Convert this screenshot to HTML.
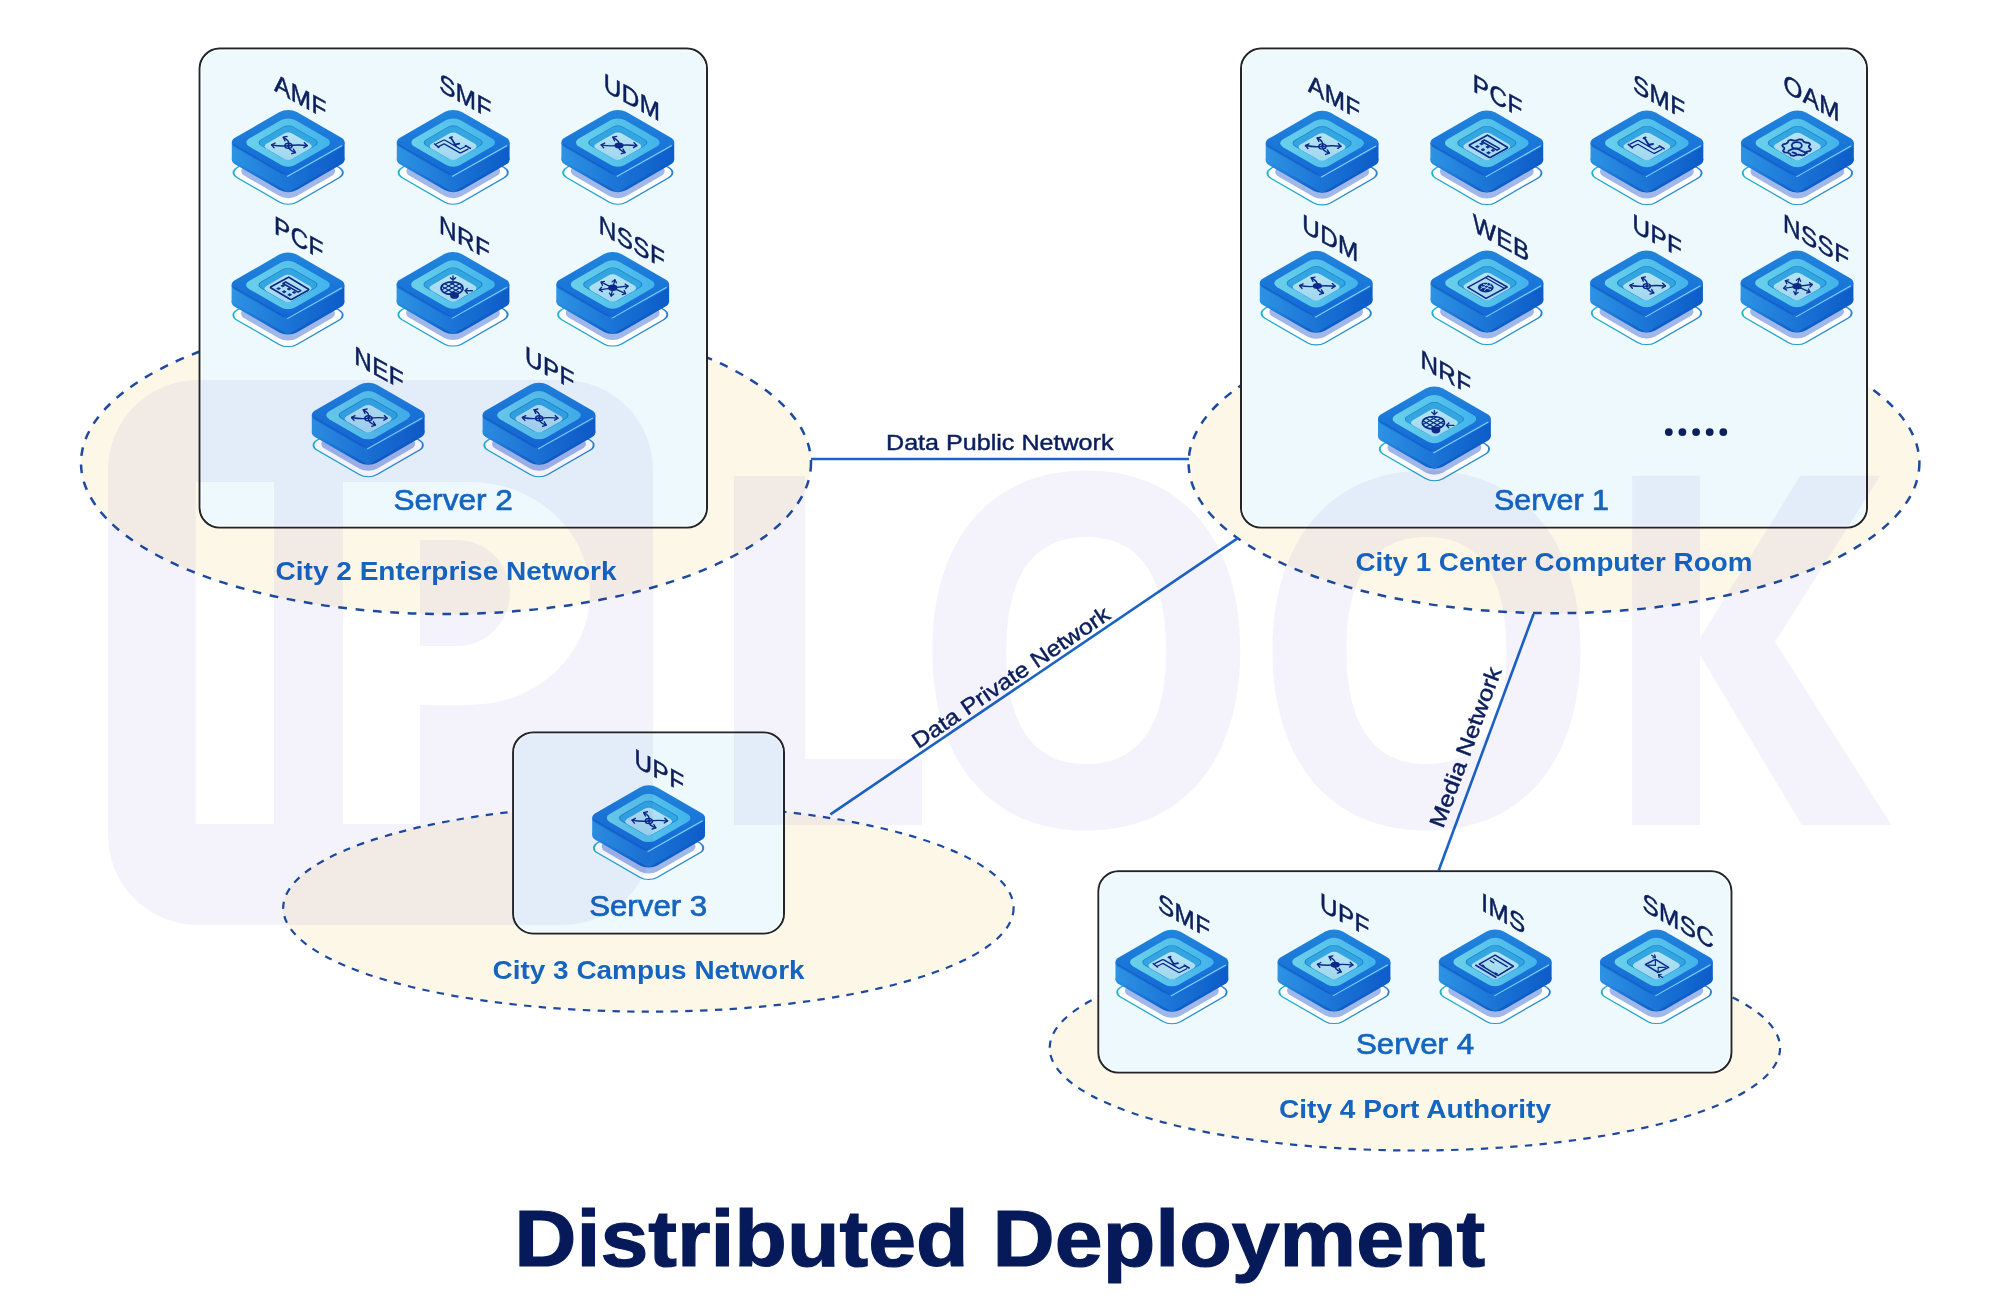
<!DOCTYPE html><html><head><meta charset="utf-8"><title>Distributed Deployment</title>
<style>html,body{margin:0;padding:0;background:#fff;width:2000px;height:1303px;overflow:hidden}svg{display:block;font-family:"Liberation Sans",sans-serif}</style></head><body>
<svg width="2000" height="1303" viewBox="0 0 2000 1303">
<defs>
<filter id="blur" x="-30%" y="-30%" width="160%" height="160%"><feGaussianBlur stdDeviation="0.7"/></filter>
<linearGradient id="sideg" x1="0" y1="0" x2="1" y2="0" gradientUnits="objectBoundingBox"><stop offset="0" stop-color="#2d93e3"/><stop offset="0.5" stop-color="#1b74d6"/><stop offset="1" stop-color="#0d5cc8"/></linearGradient>
<linearGradient id="rimg" x1="0" y1="0" x2="1" y2="1"><stop offset="0" stop-color="#2286dc"/><stop offset="1" stop-color="#1268d6"/></linearGradient>
<linearGradient id="ring2g" x1="0" y1="1" x2="1" y2="0"><stop offset="0" stop-color="#6cd2ea"/><stop offset="1" stop-color="#40b2ec"/></linearGradient><linearGradient id="plateg" x1="0" y1="1" x2="1" y2="0"><stop offset="0" stop-color="#22b6cc"/><stop offset="1" stop-color="#2a7fd0"/></linearGradient>
<linearGradient id="floorg" x1="0" y1="0" x2="1" y2="1"><stop offset="0" stop-color="#b6e4f3"/><stop offset="1" stop-color="#9fd6ef"/></linearGradient>
<g id="chip">
<g transform="translate(0,30)"><g transform="matrix(0.866,0.5,-0.866,0.5,0,0)"><rect x="-34.5" y="-34.5" width="69" height="69" rx="10" ry="10" fill="#ffffff" stroke="url(#plateg)" stroke-width="1.5"/></g></g>
<g transform="translate(0,28.5)" filter="url(#blur)"><g transform="matrix(0.866,0.5,-0.866,0.5,0,0)"><rect x="-30.0" y="-30.0" width="60" height="60" rx="10" ry="10" fill="#a0b7ea" /></g></g>
<g transform="translate(0,17)"><g transform="matrix(0.866,0.5,-0.866,0.5,0,0)"><rect x="-35.5" y="-35.5" width="71" height="71" rx="10" ry="10" fill="url(#sideg)" /></g></g>
<polygon points="-56.41124,0 56.41124,0 56.41124,17 0,49.57 -56.41124,17" fill="url(#sideg)"/>
<g transform="matrix(0.866,0.5,-0.866,0.5,0,0)"><rect x="-35.5" y="-35.5" width="71" height="71" rx="10" ry="10" fill="url(#rimg)" /></g>
<path d="M-54.91124,1.8 L-3,31.97" stroke="#1558b5" stroke-width="1.0" fill="none" opacity="0.8"/>
<path d="M-1,33.87 L53.91124,2.8" stroke="#86d8fa" stroke-width="1.1" fill="none" opacity="0.95"/>
<g transform="matrix(0.866,0.5,-0.866,0.5,0,0)"><rect x="-26.5" y="-26.5" width="53" height="53" rx="8" ry="8" fill="url(#ring2g)" /></g>
<g transform="matrix(0.866,0.5,-0.866,0.5,0,0)"><rect x="-18.5" y="-18.5" width="37" height="37" rx="6" ry="6" fill="#33a6e2" stroke="#1d86cc" stroke-width="0.9"/></g>
<g transform="translate(0,3.6)"><g transform="matrix(0.866,0.5,-0.866,0.5,0,0)"><rect x="-15.0" y="-15.0" width="30" height="30" rx="5" ry="5" fill="url(#floorg)" /></g></g>
</g>
<g id="ic_arrows"><g transform="translate(0,3.6)"><ellipse cx="0.3" cy="-0.5" rx="3.6" ry="2.5" stroke="#0d2a86" fill="none" stroke-linecap="round" stroke-linejoin="round" stroke-width="1.4"/><ellipse cx="0.3" cy="-0.5" rx="1.6" ry="1.1" fill="#0d2a86"/><path d="M0.3,-0.5 Q2.3,-5.5 -4.9,-8.9" stroke="#0d2a86" fill="none" stroke-linecap="round" stroke-linejoin="round" stroke-width="1.4"/><path d="M-1.16,-9.79 L-4.90,-8.90 L-3.21,-5.45" stroke="#0d2a86" stroke-width="1.4" fill="none" stroke-linecap="round" stroke-linejoin="round"/><path d="M0.3,-0.5 Q-8,0.4 -16.6,-1.35" stroke="#0d2a86" fill="none" stroke-linecap="round" stroke-linejoin="round" stroke-width="1.4"/><path d="M-13.18,-3.10 L-16.60,-1.35 L-14.14,1.60" stroke="#0d2a86" stroke-width="1.4" fill="none" stroke-linecap="round" stroke-linejoin="round"/><path d="M0.3,-0.5 Q9.3,-1.7 18.9,-0.65" stroke="#0d2a86" fill="none" stroke-linecap="round" stroke-linejoin="round" stroke-width="1.4"/><path d="M15.66,1.41 L18.90,-0.65 L16.18,-3.36" stroke="#0d2a86" stroke-width="1.4" fill="none" stroke-linecap="round" stroke-linejoin="round"/><path d="M0.3,-0.5 Q-0.4,3.5 7.2,6.3" stroke="#0d2a86" fill="none" stroke-linecap="round" stroke-linejoin="round" stroke-width="1.4"/><path d="M3.56,7.51 L7.20,6.30 L5.21,3.01" stroke="#0d2a86" stroke-width="1.4" fill="none" stroke-linecap="round" stroke-linejoin="round"/></g></g>
<g id="ic_arrowsB"><g transform="translate(0,3.6)"><ellipse cx="1.2" cy="-0.8" rx="4.6" ry="3.0" fill="#0d2a86"/><path d="M1.2,-0.8 Q2.3,-5.5 -4.9,-8.9" stroke="#0d2a86" fill="none" stroke-linecap="round" stroke-linejoin="round" stroke-width="1.4"/><path d="M-1.16,-9.79 L-4.90,-8.90 L-3.21,-5.45" stroke="#0d2a86" stroke-width="1.4" fill="none" stroke-linecap="round" stroke-linejoin="round"/><path d="M1.2,-0.8 Q-8,0.4 -16.6,-1.35" stroke="#0d2a86" fill="none" stroke-linecap="round" stroke-linejoin="round" stroke-width="1.4"/><path d="M-13.18,-3.10 L-16.60,-1.35 L-14.14,1.60" stroke="#0d2a86" stroke-width="1.4" fill="none" stroke-linecap="round" stroke-linejoin="round"/><path d="M1.2,-0.8 Q9.3,-1.7 18.9,-0.65" stroke="#0d2a86" fill="none" stroke-linecap="round" stroke-linejoin="round" stroke-width="1.4"/><path d="M15.66,1.41 L18.90,-0.65 L16.18,-3.36" stroke="#0d2a86" stroke-width="1.4" fill="none" stroke-linecap="round" stroke-linejoin="round"/><path d="M1.2,-0.8 Q-0.4,3.5 7.2,6.3" stroke="#0d2a86" fill="none" stroke-linecap="round" stroke-linejoin="round" stroke-width="1.4"/><path d="M3.56,7.51 L7.20,6.30 L5.21,3.01" stroke="#0d2a86" stroke-width="1.4" fill="none" stroke-linecap="round" stroke-linejoin="round"/></g></g>
<g id="ic_calc"><g transform="translate(0,3.6)"><path d="M1.2,-11.2 Q0.66,-11.6 0,-11.2 L-17,-1.8 Q-17.9,-1.2 -17,-0.6 L2.2,10.6 Q3.1,11.2 4,10.6 L20.2,1.6 Q21.2,1 20.2,0.4 Z" stroke="#0d2a86" fill="none" stroke-linecap="round" stroke-linejoin="round" stroke-width="1.7"/><path d="M-2.4,-6.6 L12.8,2.0 L10.2,3.5 L-5.0,-5.1 Z" stroke="#0d2a86" fill="none" stroke-linecap="round" stroke-linejoin="round" stroke-width="1.5"/><path d="M-7.2,-2.8 L-5.2,-4.0 L-3.2,-2.8 L-5.2,-1.5999999999999999 Z" fill="#0d2a86" stroke="#0d2a86" stroke-width="0.6"/><path d="M-11.4,0 L-9.4,-1.2 L-7.4,0 L-9.4,1.2 Z" fill="#0d2a86" stroke="#0d2a86" stroke-width="0.6"/><path d="M-1.0,0.35 L1.0,-0.85 L3.0,0.35 L1.0,1.5499999999999998 Z" fill="#0d2a86" stroke="#0d2a86" stroke-width="0.6"/><path d="M-5.8,3.1 L-3.8,1.9000000000000001 L-1.7999999999999998,3.1 L-3.8,4.3 Z" fill="#0d2a86" stroke="#0d2a86" stroke-width="0.6"/><path d="M4.2,3.8 L6.2,2.5999999999999996 L8.2,3.8 L6.2,5.0 Z" fill="#0d2a86" stroke="#0d2a86" stroke-width="0.6"/><path d="M-0.30000000000000004,6.2 L1.7,5.0 L3.7,6.2 L1.7,7.4 Z" fill="#0d2a86" stroke="#0d2a86" stroke-width="0.6"/></g></g>
<g id="ic_pipe"><g transform="translate(0,3.6)"><path d="M-16.5,-0.6 L-9,-4.4 L7.2,4.9 L14.5,1.1" stroke="#0d2a86" stroke-width="4.8" fill="none" stroke-linejoin="round"/><path d="M-16.5,-0.6 L-9,-4.4 L7.2,4.9 L14.5,1.1" stroke="#b4e2f5" stroke-width="2.2" fill="none" stroke-linejoin="round"/><path d="M-18.6,-2.2 L-14.4,1.2 M12.4,-0.6 L17.2,2.2" stroke="#0d2a86" fill="none" stroke-linecap="round" stroke-linejoin="round" stroke-width="1.6"/><path d="M-2.2,-8.3 L2.7,-0.4 M-3.4,-8.4 L-1.2,-9.2 M1.2,-1.6 L6.1,-2.6" stroke="#0d2a86" fill="none" stroke-linecap="round" stroke-linejoin="round" stroke-width="1.8"/></g></g>
<g id="ic_globe"><g transform="translate(0,3.6)"><clipPath id="gclip"><ellipse cx="-1" cy="0.1" rx="11" ry="6.3"/></clipPath><ellipse cx="-1" cy="0.1" rx="11" ry="6.3" stroke="#0d2a86" fill="none" stroke-linecap="round" stroke-linejoin="round" stroke-width="1.7"/><g clip-path="url(#gclip)"><path d="M-14,-11.8 L12,3.2" stroke="#0d2a86" fill="none" stroke-linecap="round" stroke-linejoin="round" stroke-width="1.2"/><path d="M-14,3.3999999999999995 L12,-11.600000000000001" stroke="#0d2a86" fill="none" stroke-linecap="round" stroke-linejoin="round" stroke-width="1.2"/><path d="M-14,-7.6 L12,7.4" stroke="#0d2a86" fill="none" stroke-linecap="round" stroke-linejoin="round" stroke-width="1.2"/><path d="M-14,7.6 L12,-7.4" stroke="#0d2a86" fill="none" stroke-linecap="round" stroke-linejoin="round" stroke-width="1.2"/><path d="M-14,-3.3999999999999995 L12,11.600000000000001" stroke="#0d2a86" fill="none" stroke-linecap="round" stroke-linejoin="round" stroke-width="1.2"/><path d="M-14,11.8 L12,-3.2" stroke="#0d2a86" fill="none" stroke-linecap="round" stroke-linejoin="round" stroke-width="1.2"/></g><ellipse cx="1.5" cy="7.3" rx="4.4" ry="3.4" fill="#0d2a86"/><path d="M0,-12.2 L0,-8.2" stroke="#0d2a86" fill="none" stroke-linecap="round" stroke-linejoin="round" stroke-width="1.4"/><path d="M-2.60,-10.40 L0.00,-8.20 L2.60,-10.40" stroke="#0d2a86" stroke-width="1.4" fill="none" stroke-linecap="round" stroke-linejoin="round"/><path d="M19.4,2.7 L12.2,2.7" stroke="#0d2a86" fill="none" stroke-linecap="round" stroke-linejoin="round" stroke-width="1.4"/><path d="M14.40,0.30 L12.20,2.70 L14.40,5.10" stroke="#0d2a86" stroke-width="1.4" fill="none" stroke-linecap="round" stroke-linejoin="round"/></g></g>
<g id="ic_web"><g transform="translate(0,3.6)"><path d="M1.2,-10.4 L20.2,0.4 L-0.9,11.7 L-19.2,0.7 Z" stroke="#0d2a86" fill="none" stroke-linecap="round" stroke-linejoin="round" stroke-width="1.5"/><path d="M-0.9,-8.6 L17.1,1.7" stroke="#0d2a86" fill="none" stroke-linecap="round" stroke-linejoin="round" stroke-width="1.3"/><ellipse cx="-1.2" cy="1.0" rx="7.9" ry="4.8" fill="#0d2a86"/><path d="M-6,0 L4,3 M-4,-2.5 L5,0.5 M-3,4 L4,-2 M-6.5,2.5 L1,-3" stroke="#b4e2f5" stroke-width="0.9" fill="none"/></g></g>
<g id="ic_hub"><g transform="translate(0,3.6)"><ellipse cx="0.1" cy="-0.3" rx="4.6" ry="3.2" fill="#0d2a86"/><path d="M0.1,-0.3 L2.2,-8.3" stroke="#0d2a86" fill="none" stroke-linecap="round" stroke-linejoin="round" stroke-width="1.3"/><path d="M3.67,-5.23 L2.20,-8.30 L-0.59,-6.34" stroke="#0d2a86" stroke-width="1.3" fill="none" stroke-linecap="round" stroke-linejoin="round"/><path d="M0.1,-0.3 L-11.6,-5.9" stroke="#0d2a86" fill="none" stroke-linecap="round" stroke-linejoin="round" stroke-width="1.3"/><path d="M-8.30,-6.76 L-11.60,-5.90 L-10.20,-2.79" stroke="#0d2a86" stroke-width="1.3" fill="none" stroke-linecap="round" stroke-linejoin="round"/><path d="M0.1,-0.3 L-13.3,1.7" stroke="#0d2a86" fill="none" stroke-linecap="round" stroke-linejoin="round" stroke-width="1.3"/><path d="M-11.05,-0.86 L-13.30,1.70 L-10.40,3.49" stroke="#0d2a86" stroke-width="1.3" fill="none" stroke-linecap="round" stroke-linejoin="round"/><path d="M0.1,-0.3 L-1.6,7.9" stroke="#0d2a86" fill="none" stroke-linecap="round" stroke-linejoin="round" stroke-width="1.3"/><path d="M-3.23,4.91 L-1.60,7.90 L1.08,5.80" stroke="#0d2a86" stroke-width="1.3" fill="none" stroke-linecap="round" stroke-linejoin="round"/><path d="M0.1,-0.3 L12.9,5.5" stroke="#0d2a86" fill="none" stroke-linecap="round" stroke-linejoin="round" stroke-width="1.3"/><path d="M9.62,6.43 L12.90,5.50 L11.44,2.42" stroke="#0d2a86" stroke-width="1.3" fill="none" stroke-linecap="round" stroke-linejoin="round"/><path d="M0.1,-0.3 L15.3,-2.1" stroke="#0d2a86" fill="none" stroke-linecap="round" stroke-linejoin="round" stroke-width="1.3"/><path d="M12.98,0.39 L15.30,-2.10 L12.46,-3.98" stroke="#0d2a86" stroke-width="1.3" fill="none" stroke-linecap="round" stroke-linejoin="round"/></g></g>
<g id="ic_gear"><g transform="translate(0,3.6)"><polygon points="8.03,6.10 7.36,8.06 4.82,8.84 1.64,8.07 -0.80,8.21 -3.67,9.32 -6.42,8.84 -7.74,7.00 -9.63,6.10 -13.02,5.71 -14.38,4.25 -13.05,2.41 -13.29,1.00 -15.21,-0.66 -14.38,-2.25 -11.19,-3.01 -9.63,-4.10 -8.96,-6.06 -6.42,-6.84 -3.24,-6.07 -0.80,-6.21 2.07,-7.32 4.82,-6.84 6.14,-5.00 8.03,-4.10 11.42,-3.71 12.78,-2.25 11.45,-0.41 11.69,1.00 13.61,2.66 12.78,4.25 9.59,5.01" stroke="#0d2a86" fill="none" stroke-linecap="round" stroke-linejoin="round" stroke-width="1.8"/><ellipse cx="-0.6" cy="-1.2" rx="5" ry="3.3" stroke="#0d2a86" fill="none" stroke-linecap="round" stroke-linejoin="round" stroke-width="1.8"/><path d="M-9,4.5 Q-2,-0.5 3.5,4 L9.5,6.5" stroke="#0d2a86" fill="none" stroke-linecap="round" stroke-linejoin="round" stroke-width="1.8"/><path d="M-4.8,5.8 L-1.5,6.8" stroke="#0d2a86" fill="none" stroke-linecap="round" stroke-linejoin="round" stroke-width="2"/></g></g>
<g id="ic_doc"><g transform="translate(0,3.6)"><path d="M-0.07,-10.4 L18.2,0.66 L2.7,10.0 L-16,-1.4 Z" stroke="#0d2a86" fill="none" stroke-linecap="round" stroke-linejoin="round" stroke-width="1.5"/><path d="M-19.4,-0.35 L0.6,11.7" stroke="#0d2a86" fill="none" stroke-linecap="round" stroke-linejoin="round" stroke-width="1.6"/><path d="M-1.45,-6.95 L12,1.0 M-4.9,-4.9 L-1.45,-2.8" stroke="#0d2a86" fill="none" stroke-linecap="round" stroke-linejoin="round" stroke-width="1.3"/><path d="M-12.5,-1 L-10.5,0.8 L-12.6,1.2 Z M0,7 L2.5,8.2 L0.6,9.5 Z" fill="#0d2a86" stroke="#0d2a86" stroke-width="0.8"/></g></g>
<g id="ic_mail"><g transform="translate(0,3.6)"><path d="M-1,-6.25 L12.2,1.7 L1.8,6.9 L-11,-1.07 Z" stroke="#0d2a86" fill="none" stroke-linecap="round" stroke-linejoin="round" stroke-width="1.5"/><path d="M-1,-6.25 L-1,-0.2 L-8.2,-0.4 M1.8,6.9 L1.8,1.7 L9.05,1.7" stroke="#0d2a86" fill="none" stroke-linecap="round" stroke-linejoin="round" stroke-width="1.2"/><path d="M-4.8,-10.4 L-1,-8.1" stroke="#0d2a86" fill="none" stroke-linecap="round" stroke-linejoin="round" stroke-width="1.2"/><path d="M-3.64,-7.60 L-1.00,-8.10 L-1.78,-10.68" stroke="#0d2a86" stroke-width="1.2" fill="none" stroke-linecap="round" stroke-linejoin="round"/><path d="M6.3,12 L2.1,9.3" stroke="#0d2a86" fill="none" stroke-linecap="round" stroke-linejoin="round" stroke-width="1.2"/><path d="M4.76,8.87 L2.10,9.30 L2.81,11.90" stroke="#0d2a86" stroke-width="1.2" fill="none" stroke-linecap="round" stroke-linejoin="round"/></g></g>
</defs>
<rect width="2000" height="1303" fill="#ffffff"/>
<ellipse cx="446" cy="463" rx="365" ry="151" fill="#fdf7e8" stroke="#1d4aa0" stroke-width="2.5" stroke-dasharray="8.70 8.70"/>
<ellipse cx="1554" cy="463" rx="365.4" ry="150.2" fill="#fdf7e8" stroke="#1d4aa0" stroke-width="2.5" stroke-dasharray="8.70 8.70"/>
<ellipse cx="648.4" cy="908" rx="365.2" ry="103.7" fill="#fdf7e8" stroke="#1d4aa0" stroke-width="2.2" stroke-dasharray="7.35 7.35"/>
<ellipse cx="1414.9" cy="1048" rx="365.2" ry="102.5" fill="#fdf7e8" stroke="#1d4aa0" stroke-width="2.2" stroke-dasharray="7.35 7.35"/>
<line x1="811" y1="459" x2="1189" y2="459" stroke="#1b64c4" stroke-width="2.6"/>
<line x1="830.4" y1="814.3" x2="1237.8" y2="538.1" stroke="#1b64c4" stroke-width="2.6"/>
<line x1="1533.6" y1="614" x2="1438.7" y2="870.5" stroke="#1b64c4" stroke-width="2.6"/>
<text x="886" y="449.5" font-size="22" fill="#0b1f5c" stroke="#0b1f5c" stroke-width="0.45" textLength="227.5" lengthAdjust="spacingAndGlyphs">Data Public Network</text>
<text transform="translate(918.2,749.2) rotate(-34.14)" x="0" y="0" font-size="22" fill="#0b1f5c" stroke="#0b1f5c" stroke-width="0.45" textLength="234" lengthAdjust="spacingAndGlyphs">Data Private Network</text>
<text transform="translate(1443.1,829) rotate(-69.67)" x="0" y="0" font-size="22" fill="#0b1f5c" stroke="#0b1f5c" stroke-width="0.45" textLength="169" lengthAdjust="spacingAndGlyphs">Media Network</text>
<rect x="199.6" y="48.6" width="507.4" height="479.0" rx="20" ry="20" fill="#eef9fd" stroke="#222629" stroke-width="2"/>
<rect x="201.2" y="50.2" width="504.2" height="475.8" rx="18.4" ry="18.4" fill="none" stroke="#ffffff" stroke-width="1" opacity="0.9"/>
<rect x="1241" y="48.6" width="626" height="479.0" rx="20" ry="20" fill="#eef9fd" stroke="#222629" stroke-width="2"/>
<rect x="1242.6" y="50.2" width="622.8" height="475.8" rx="18.4" ry="18.4" fill="none" stroke="#ffffff" stroke-width="1" opacity="0.9"/>
<rect x="513.1" y="732.4" width="270.9" height="201.10000000000002" rx="20" ry="20" fill="#eef9fd" stroke="#222629" stroke-width="2"/>
<rect x="514.7" y="734.0" width="267.7" height="197.90000000000003" rx="18.4" ry="18.4" fill="none" stroke="#ffffff" stroke-width="1" opacity="0.9"/>
<rect x="1098.4" y="871.3" width="633.0" height="201.29999999999995" rx="20" ry="20" fill="#eef9fd" stroke="#222629" stroke-width="2"/>
<rect x="1100.0" y="872.9" width="629.8" height="198.09999999999997" rx="18.4" ry="18.4" fill="none" stroke="#ffffff" stroke-width="1" opacity="0.9"/>
<use href="#chip" x="288.2" y="142.6"/>
<use href="#ic_arrows" x="288.2" y="142.6"/>
<text transform="translate(274.2,90.6) skewY(29) scale(0.95,1)" font-size="25.5" fill="#0b1f5c" stroke="#0b1f5c" stroke-width="0.55" letter-spacing="0.5">AMF</text>
<use href="#chip" x="453.2" y="142.6"/>
<use href="#ic_pipe" x="453.2" y="142.6"/>
<text transform="translate(439.2,90.6) skewY(29) scale(0.95,1)" font-size="25.5" fill="#0b1f5c" stroke="#0b1f5c" stroke-width="0.55" letter-spacing="0.5">SMF</text>
<use href="#chip" x="617.8" y="142.6"/>
<use href="#ic_arrowsB" x="617.8" y="142.6"/>
<text transform="translate(603.8,90.6) skewY(29) scale(0.95,1)" font-size="25.5" fill="#0b1f5c" stroke="#0b1f5c" stroke-width="0.55" letter-spacing="0.5">UDM</text>
<use href="#chip" x="288.0" y="285.0"/>
<use href="#ic_calc" x="288.0" y="285.0"/>
<text transform="translate(274.0,233.0) skewY(29) scale(0.95,1)" font-size="25.5" fill="#0b1f5c" stroke="#0b1f5c" stroke-width="0.55" letter-spacing="0.5">PCF</text>
<use href="#chip" x="453.0" y="284.5"/>
<use href="#ic_globe" x="453.0" y="284.5"/>
<text transform="translate(439.0,232.5) skewY(29) scale(0.95,1)" font-size="25.5" fill="#0b1f5c" stroke="#0b1f5c" stroke-width="0.55" letter-spacing="0.5">NRF</text>
<use href="#chip" x="612.7" y="284.5"/>
<use href="#ic_hub" x="612.7" y="284.5"/>
<text transform="translate(598.7,232.5) skewY(29) scale(0.95,1)" font-size="25.5" fill="#0b1f5c" stroke="#0b1f5c" stroke-width="0.55" letter-spacing="0.5">NSSF</text>
<use href="#chip" x="368.2" y="415.2"/>
<use href="#ic_arrows" x="368.2" y="415.2"/>
<text transform="translate(354.2,363.2) skewY(29) scale(0.95,1)" font-size="25.5" fill="#0b1f5c" stroke="#0b1f5c" stroke-width="0.55" letter-spacing="0.5">NEF</text>
<use href="#chip" x="539.0" y="415.2"/>
<use href="#ic_arrows" x="539.0" y="415.2"/>
<text transform="translate(525.0,363.2) skewY(29) scale(0.95,1)" font-size="25.5" fill="#0b1f5c" stroke="#0b1f5c" stroke-width="0.55" letter-spacing="0.5">UPF</text>
<use href="#chip" x="1322.1" y="143.3"/>
<use href="#ic_arrows" x="1322.1" y="143.3"/>
<text transform="translate(1308.1,91.3) skewY(29) scale(0.95,1)" font-size="25.5" fill="#0b1f5c" stroke="#0b1f5c" stroke-width="0.55" letter-spacing="0.5">AMF</text>
<use href="#chip" x="1486.8" y="143.0"/>
<use href="#ic_calc" x="1486.8" y="143.0"/>
<text transform="translate(1472.8,91.0) skewY(29) scale(0.95,1)" font-size="25.5" fill="#0b1f5c" stroke="#0b1f5c" stroke-width="0.55" letter-spacing="0.5">PCF</text>
<use href="#chip" x="1646.9" y="143.0"/>
<use href="#ic_pipe" x="1646.9" y="143.0"/>
<text transform="translate(1632.9,91.0) skewY(29) scale(0.95,1)" font-size="25.5" fill="#0b1f5c" stroke="#0b1f5c" stroke-width="0.55" letter-spacing="0.5">SMF</text>
<use href="#chip" x="1797.4" y="143.0"/>
<use href="#ic_gear" x="1797.4" y="143.0"/>
<text transform="translate(1783.4,91.0) skewY(29) scale(0.95,1)" font-size="25.5" fill="#0b1f5c" stroke="#0b1f5c" stroke-width="0.55" letter-spacing="0.5">OAM</text>
<use href="#chip" x="1316.2" y="283.3"/>
<use href="#ic_arrowsB" x="1316.2" y="283.3"/>
<text transform="translate(1302.2,231.3) skewY(29) scale(0.95,1)" font-size="25.5" fill="#0b1f5c" stroke="#0b1f5c" stroke-width="0.55" letter-spacing="0.5">UDM</text>
<use href="#chip" x="1487.0" y="283.0"/>
<use href="#ic_web" x="1487.0" y="283.0"/>
<text transform="translate(1473.0,231.0) skewY(29) scale(0.95,1)" font-size="25.5" fill="#0b1f5c" stroke="#0b1f5c" stroke-width="0.55" letter-spacing="0.5">WEB</text>
<use href="#chip" x="1646.5" y="283.0"/>
<use href="#ic_arrows" x="1646.5" y="283.0"/>
<text transform="translate(1632.5,231.0) skewY(29) scale(0.95,1)" font-size="25.5" fill="#0b1f5c" stroke="#0b1f5c" stroke-width="0.55" letter-spacing="0.5">UPF</text>
<use href="#chip" x="1797.0" y="283.0"/>
<use href="#ic_hub" x="1797.0" y="283.0"/>
<text transform="translate(1783.0,231.0) skewY(29) scale(0.95,1)" font-size="25.5" fill="#0b1f5c" stroke="#0b1f5c" stroke-width="0.55" letter-spacing="0.5">NSSF</text>
<use href="#chip" x="1434.4" y="419.1"/>
<use href="#ic_globe" x="1434.4" y="419.1"/>
<text transform="translate(1420.4,367.1) skewY(29) scale(0.95,1)" font-size="25.5" fill="#0b1f5c" stroke="#0b1f5c" stroke-width="0.55" letter-spacing="0.5">NRF</text>
<use href="#chip" x="648.6" y="817.9"/>
<use href="#ic_arrows" x="648.6" y="817.9"/>
<text transform="translate(634.6,765.9) skewY(29) scale(0.95,1)" font-size="25.5" fill="#0b1f5c" stroke="#0b1f5c" stroke-width="0.55" letter-spacing="0.5">UPF</text>
<use href="#chip" x="1171.9" y="962.2"/>
<use href="#ic_pipe" x="1171.9" y="962.2"/>
<text transform="translate(1157.9,910.2) skewY(29) scale(0.95,1)" font-size="25.5" fill="#0b1f5c" stroke="#0b1f5c" stroke-width="0.55" letter-spacing="0.5">SMF</text>
<use href="#chip" x="1334.0" y="962.0"/>
<use href="#ic_arrowsB" x="1334.0" y="962.0"/>
<text transform="translate(1320.0,910.0) skewY(29) scale(0.95,1)" font-size="25.5" fill="#0b1f5c" stroke="#0b1f5c" stroke-width="0.55" letter-spacing="0.5">UPF</text>
<use href="#chip" x="1495.2" y="962.0"/>
<use href="#ic_doc" x="1495.2" y="962.0"/>
<text transform="translate(1481.2,910.0) skewY(29) scale(0.95,1)" font-size="25.5" fill="#0b1f5c" stroke="#0b1f5c" stroke-width="0.55" letter-spacing="0.5">IMS</text>
<use href="#chip" x="1656.4" y="962.0"/>
<use href="#ic_mail" x="1656.4" y="962.0"/>
<text transform="translate(1642.4,910.0) skewY(29) scale(0.95,1)" font-size="25.5" fill="#0b1f5c" stroke="#0b1f5c" stroke-width="0.55" letter-spacing="0.5">SMSC</text>
<circle cx="1668.8" cy="432.1" r="3.9" fill="#0b1f5c"/>
<circle cx="1682.4" cy="432.1" r="3.9" fill="#0b1f5c"/>
<circle cx="1696.1" cy="432.1" r="3.9" fill="#0b1f5c"/>
<circle cx="1709.7" cy="432.1" r="3.9" fill="#0b1f5c"/>
<circle cx="1723.3" cy="432.1" r="3.9" fill="#0b1f5c"/>
<text x="453.2" y="510" font-size="30" font-weight="normal" fill="#1565c0" stroke="#1565c0" stroke-width="0.7" text-anchor="middle" textLength="119.5" lengthAdjust="spacingAndGlyphs">Server 2</text>
<text x="1551.5" y="509.7" font-size="30" font-weight="normal" fill="#1565c0" stroke="#1565c0" stroke-width="0.7" text-anchor="middle" textLength="115" lengthAdjust="spacingAndGlyphs">Server 1</text>
<text x="648.2" y="915.7" font-size="30" font-weight="normal" fill="#1565c0" stroke="#1565c0" stroke-width="0.7" text-anchor="middle" textLength="118" lengthAdjust="spacingAndGlyphs">Server 3</text>
<text x="1415" y="1053.8" font-size="30" font-weight="normal" fill="#1565c0" stroke="#1565c0" stroke-width="0.7" text-anchor="middle" textLength="118" lengthAdjust="spacingAndGlyphs">Server 4</text>
<text x="446.1" y="579.7" font-size="26.5" font-weight="bold" fill="#1565c0" text-anchor="middle" textLength="341" lengthAdjust="spacingAndGlyphs">City 2 Enterprise Network</text>
<text x="1553.9" y="571.4" font-size="26.5" font-weight="bold" fill="#1565c0" text-anchor="middle" textLength="397" lengthAdjust="spacingAndGlyphs">City 1 Center Computer Room</text>
<text x="648.6" y="979.1" font-size="26.5" font-weight="bold" fill="#1565c0" text-anchor="middle" textLength="312" lengthAdjust="spacingAndGlyphs">City 3 Campus Network</text>
<text x="1415" y="1118.4" font-size="26.5" font-weight="bold" fill="#1565c0" text-anchor="middle" textLength="272" lengthAdjust="spacingAndGlyphs">City 4 Port Authority</text>
<text x="999.8" y="1265.5" font-size="79" font-weight="bold" fill="#061a5a" stroke="#061a5a" stroke-width="1.2" text-anchor="middle" textLength="971" lengthAdjust="spacingAndGlyphs">Distributed Deployment</text>
<g style="mix-blend-mode:multiply" fill="#f4f3fc" fill-rule="evenodd">
<path d="M198,380 H563 A90,90 0 0 1 653,470 V835 A90,90 0 0 1 563,925 H198 A90,90 0 0 1 108,835 V470 A90,90 0 0 1 198,380 Z M195.7,482 H274 V824 H195.7 Z M343,482 H470 A120,111.5 0 0 1 470,705 H420 V824 H343 Z M420,540 H457 A53,53 0 0 1 457,646 H420 Z"/>
<path d="M734,476 H805 V759 H922 V825 H734 Z"/>
<path d="M932.3,650.6 C932.3,539.0 990.8,470.6 1086.3,470.6 C1181.8,470.6 1240.3,539.0 1240.3,650.6 C1240.3,762.2 1181.8,830.6 1086.3,830.6 C990.8,830.6 932.3,762.2 932.3,650.6 Z M1006.3,650.6 C1006.3,575.7 1033.5,537.1 1086.3,537.1 C1139.1,537.1 1166.3,575.7 1166.3,650.6 C1166.3,725.5 1139.1,764.1 1086.3,764.1 C1033.5,764.1 1006.3,725.5 1006.3,650.6 Z"/>
<path d="M1272.5,650.6 C1272.5,539.0 1331.0,470.6 1426.5,470.6 C1522.0,470.6 1580.5,539.0 1580.5,650.6 C1580.5,762.2 1522.0,830.6 1426.5,830.6 C1331.0,830.6 1272.5,762.2 1272.5,650.6 Z M1346.5,650.6 C1346.5,575.7 1373.7,537.1 1426.5,537.1 C1479.3,537.1 1506.5,575.7 1506.5,650.6 C1506.5,725.5 1479.3,764.1 1426.5,764.1 C1373.7,764.1 1346.5,725.5 1346.5,650.6 Z"/>
<path d="M1632.2,475.8 L1700,475.8 L1700,638 L1800.2,475.8 L1880.4,475.8 L1775,641.9 L1891.4,825 L1801.8,825 L1700,655 L1700,825 L1632.2,825 Z"/>
</g>
</svg></body></html>
